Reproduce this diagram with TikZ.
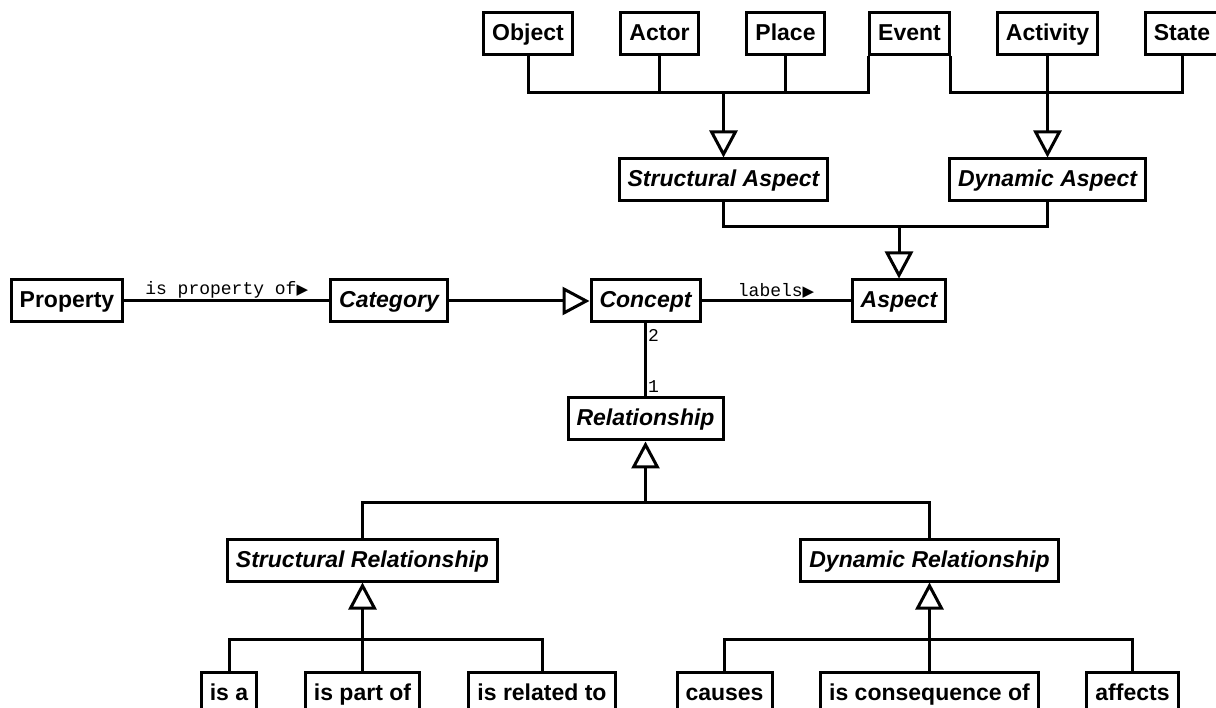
\documentclass[tikz,border=0pt]{standalone}
\usepackage{fontspec}
\setmainfont{Liberation Sans}
\setmonofont{Liberation Mono}
\newfontfamily\symfont{DejaVu Sans}
\usetikzlibrary{arrows.meta}
\newcommand{\dirtri}{{\symfont\fontsize{15}{15}\selectfont ▶}}

\begin{document}
\begin{tikzpicture}[x=1pt,y=-1pt,line width=3pt,
  cls/.style={draw,minimum height=42pt,inner xsep=8.5pt,inner ysep=0pt,
    text height=17.5pt,text depth=3.5pt,font=\fontsize{23}{27}\selectfont\bfseries},
  abs/.style={cls,font=\fontsize{23}{27}\selectfont\bfseries\itshape},
  gen/.style={-{Triangle[open,length=27pt,width=28pt]}},
  lbl/.style={font=\fontsize{18}{18}\selectfont\ttfamily,inner sep=1pt}]
  \useasboundingbox (0,0) rectangle (1216,708);
  \node[cls] (Object)   at (528,34)    {Object};
  \node[cls] (Actor)    at (659.5,34)  {Actor};
  \node[cls] (Place)    at (785.5,34)  {Place};
  \node[cls] (Event)    at (909.5,34)  {Event};
  \node[cls] (Activity) at (1047.5,34) {Activity};
  \node[cls] (State)    at (1182,34)   {State};
  \node[abs] (SA) at (723.5,180)  {Structural Aspect};
  \node[abs] (DA) at (1047.5,180) {Dynamic Aspect};
  \node[cls] (Property) at (67,301)    {Property};
  \node[abs] (Category) at (389,301)   {Category};
  \node[abs] (Concept)  at (645.5,301) {Concept};
  \node[abs] (Aspect)   at (899,301)   {Aspect};
  \node[abs] (Rel) at (645.5,419) {Relationship};
  \node[abs] (SR)  at (362.5,560) {Structural Relationship};
  \node[abs] (DR)  at (929.5,560) {Dynamic Relationship};
  \node[cls] (isa)     at (229,693)    {is a};
  \node[cls] (partof)  at (362.5,693)  {is part of};
  \node[cls] (relto)   at (542,693)    {is related to};
  \node[cls] (causes)  at (724.5,693)  {causes};
  \node[cls] (conseq)  at (929.5,693)  {is consequence of};
  \node[cls] (affects) at (1132.5,693) {affects};
  \coordinate (sbus)  at (723.5,93);
  \coordinate (dbus)  at (1047.5,93);
  \coordinate (abus)  at (899,227);
  \coordinate (rbus)  at (645.5,502);
  \coordinate (srbus) at (362.5,639);
  \coordinate (drbus) at (929.5,639);
  \draw (Object.south) |- (sbus) -| (Event.south west);
  \draw (Actor.south) -- (Actor.south |- sbus);
  \draw (Place.south) -- (Place.south |- sbus);
  \draw[gen] (sbus) -- (SA.north);
  \draw (Event.south east) |- (dbus) -| (State.south);
  \draw[gen] (Activity.south) -- (DA.north);
  \draw (SA.south) |- (abus) -| (DA.south);
  \draw[gen] (abus) -- (Aspect.north);
  \draw (Property) -- (Category) node[midway,above,lbl] {is property of\dirtri};
  \draw[gen] (Category) -- (Concept);
  \draw (Concept) -- (Aspect) node[midway,above,lbl] {labels\dirtri};
  \draw (Concept) -- (Rel) node[pos=.17,right,lbl] {2} node[pos=.87,right,lbl] {1};
  \draw (SR.north) |- (rbus) -| (DR.north);
  \draw[gen] (rbus) -- (Rel.south);
  \draw (isa.north) |- (srbus) -| (relto.north);
  \draw[gen] (partof.north) -- (SR.south);
  \draw (causes.north) |- (drbus) -| (affects.north);
  \draw[gen] (conseq.north) -- (DR.south);
\end{tikzpicture}
\end{document}
